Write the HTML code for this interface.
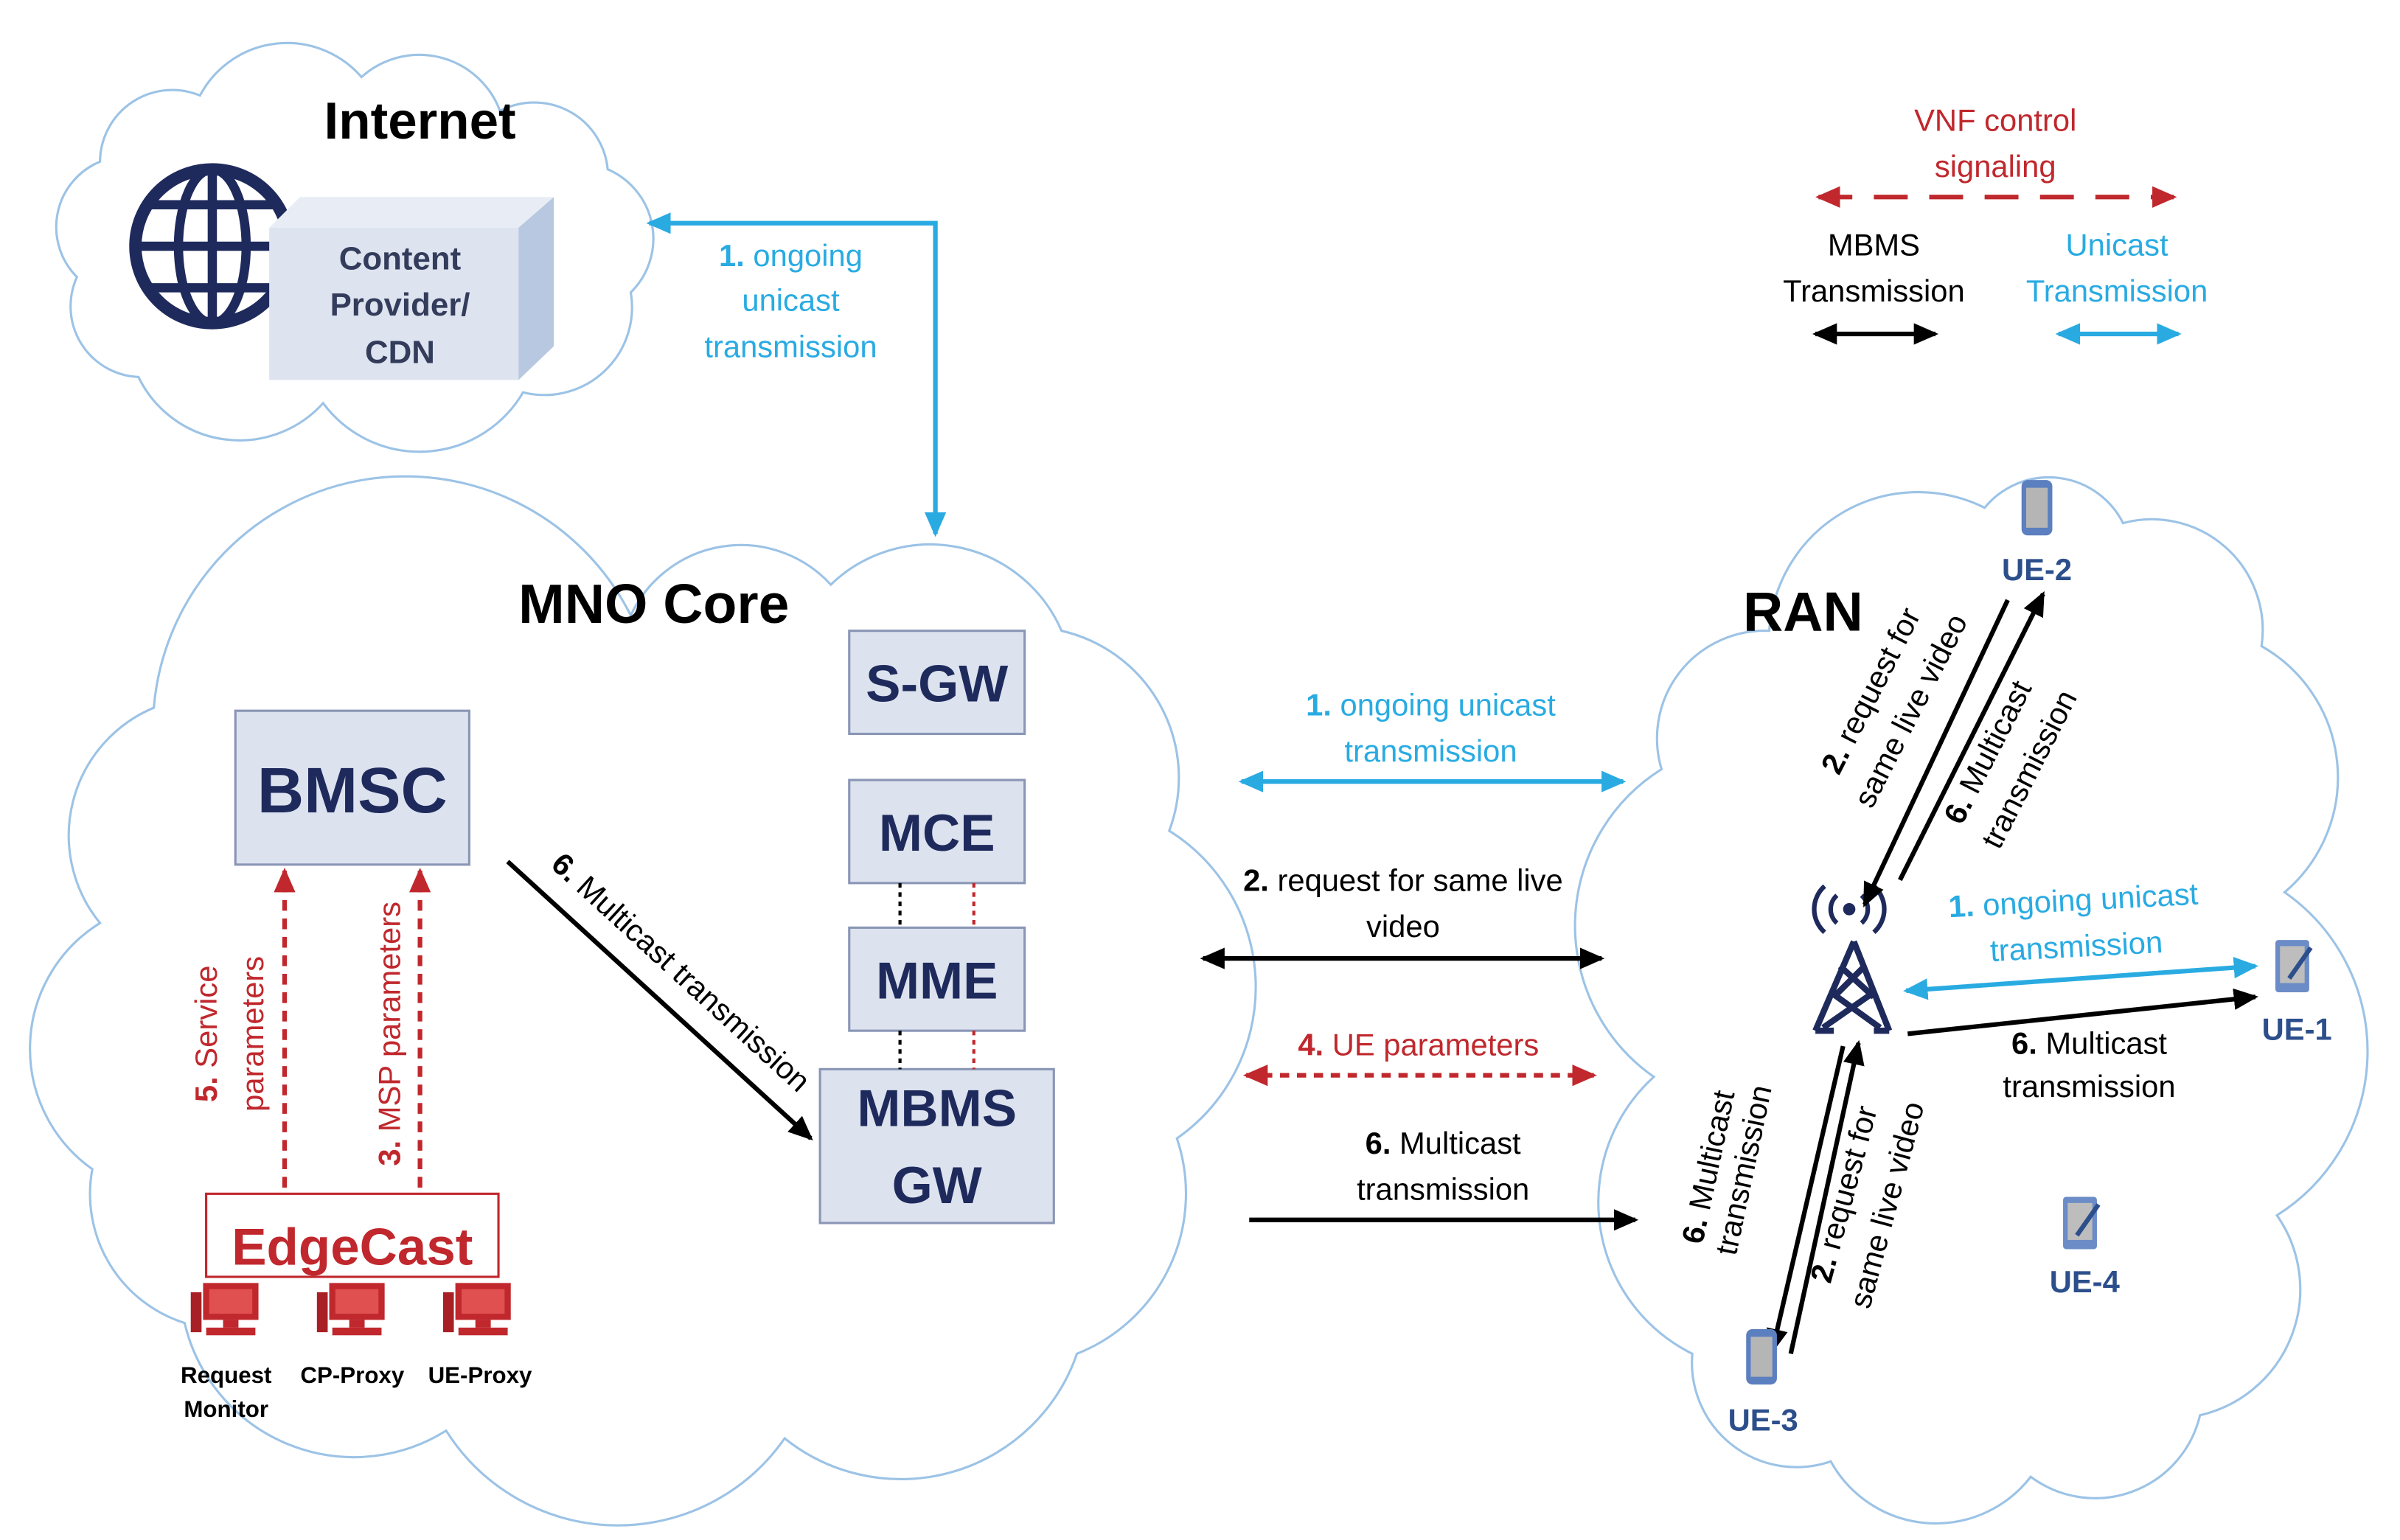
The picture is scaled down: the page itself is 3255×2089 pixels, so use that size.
<!DOCTYPE html>
<html><head><meta charset="utf-8"><style>
html,body{margin:0;padding:0;background:#fff}
svg{display:block}
text{font-family:"Liberation Sans",sans-serif}
</style></head><body>
<svg width="3255" height="2089" viewBox="0 0 1560 1001" xmlns="http://www.w3.org/2000/svg">
<defs>
<marker id="ab" markerUnits="userSpaceOnUse" markerWidth="16" markerHeight="14" refX="14" refY="7" orient="auto-start-reverse"><path d="M0,0 L16,7 L0,14 z" fill="#29abe2"/></marker>
<marker id="ak" markerUnits="userSpaceOnUse" markerWidth="16" markerHeight="14" refX="14" refY="7" orient="auto-start-reverse"><path d="M0,0 L16,7 L0,14 z" fill="#000"/></marker>
<marker id="ar" markerUnits="userSpaceOnUse" markerWidth="16" markerHeight="14" refX="14" refY="7" orient="auto-start-reverse"><path d="M0,0 L16,7 L0,14 z" fill="#c0282d"/></marker>
<g id="phone"><rect x="-10" y="-18" width="20" height="36" rx="4" fill="#5b7fbf"/><rect x="-7" y="-13" width="14" height="26" fill="#b5b5b5"/></g>
<g id="tab"><rect x="-11" y="-17" width="22" height="34" rx="2" fill="#6b8cc6"/><rect x="-8" y="-13" width="16" height="24" fill="#bdbdbd"/><line x1="-2" y1="8" x2="12" y2="-12" stroke="#2c4f8c" stroke-width="3"/></g>
<g id="pc"><rect x="-18" y="-16" width="36" height="24" fill="#c0282d"/><rect x="-14" y="-12" width="28" height="16" fill="#e05050"/><rect x="-5" y="8" width="10" height="5" fill="#c0282d"/><rect x="-16" y="13" width="32" height="5" fill="#c0282d"/><rect x="-26" y="-10" width="7" height="26" fill="#a82025"/></g>
</defs>

<!-- Internet cloud -->
<path d="M90,245 A46,46 0 0 1 50,180 A46,46 0 0 1 65,105 A47,47 0 0 1 130,62 A64,64 0 0 1 235,50 A56,56 0 0 1 325,72 A48,48 0 0 1 395,110 A49,49 0 0 1 410,190 A57,57 0 0 1 340,255 A78,78 0 0 1 210,262 A73,73 0 0 1 90,245 Z" fill="#fff" stroke="#9cc3e6" stroke-width="1.5"/>
<text x="273" y="90" font-size="34" font-weight="bold" text-anchor="middle">Internet</text>
<circle cx="138" cy="160" r="50" fill="none" stroke="#1f2a5c" stroke-width="8"/>
<ellipse cx="138" cy="160" rx="22" ry="50" fill="none" stroke="#1f2a5c" stroke-width="6"/>
<line x1="138" y1="110" x2="138" y2="210" stroke="#1f2a5c" stroke-width="6"/>
<line x1="88" y1="160" x2="188" y2="160" stroke="#1f2a5c" stroke-width="6"/>
<line x1="96" y1="133" x2="180" y2="133" stroke="#1f2a5c" stroke-width="6"/>
<line x1="96" y1="187" x2="180" y2="187" stroke="#1f2a5c" stroke-width="6"/>
<polygon points="175,148 195,128 360,128 337,148" fill="#e8edf5"/>
<polygon points="337,148 360,128 360,225 337,247" fill="#b8c8e0"/>
<rect x="175" y="148" width="162" height="99" fill="#dde4f0"/>
<g font-size="21" font-weight="bold" fill="#333c5a" text-anchor="middle"><text x="260" y="175">Content</text><text x="260" y="205">Provider/</text><text x="260" y="236">CDN</text></g>

<!-- top blue connector -->
<polyline points="422,145 608,145 608,347" fill="none" stroke="#29abe2" stroke-width="3" marker-start="url(#ab)" marker-end="url(#ab)"/>
<g font-size="20" fill="#29abe2" text-anchor="middle"><text x="514" y="173"><tspan font-weight="bold">1.</tspan> ongoing</text><text x="514" y="202">unicast</text><text x="514" y="232">transmission</text></g>

<!-- MNO cloud -->
<path d="M120,860 A88,88 0 0 1 60,760 A96,96 0 0 1 65,600 A90,90 0 0 1 100,460 A164,164 0 0 1 410,400 A79,79 0 0 1 540,380 A93,93 0 0 1 690,410 A98,98 0 0 1 760,540 A120,120 0 0 1 765,740 A112,112 0 0 1 700,880 A121,121 0 0 1 510,935 A132,132 0 0 1 290,930 A113,113 0 0 1 120,860 Z" fill="#fff" stroke="#9cc3e6" stroke-width="1.5"/>
<text x="425" y="405" font-size="36" font-weight="bold" text-anchor="middle">MNO Core</text>

<!-- RAN cloud -->
<path d="M1100,880 A110,110 0 0 1 1075,700 A120,120 0 0 1 1080,500 A70,70 0 0 1 1150,410 A97,97 0 0 1 1290,330 A54,54 0 0 1 1380,340 A72,72 0 0 1 1470,420 A98,98 0 0 1 1485,580 A126,126 0 0 1 1480,790 A84,84 0 0 1 1430,920 A70,70 0 0 1 1320,960 A78,78 0 0 1 1190,950 A68,68 0 0 1 1100,880 Z" fill="#fff" stroke="#9cc3e6" stroke-width="1.5"/>
<text x="1172" y="410" font-size="36" font-weight="bold" text-anchor="middle">RAN</text>

<!-- boxes -->
<g fill="#dce3ef" stroke="#8a96b5" stroke-width="1.5">
<rect x="552" y="410" width="114" height="67"/><rect x="552" y="507" width="114" height="67"/><rect x="552" y="603" width="114" height="67"/><rect x="533" y="695" width="152" height="100"/><rect x="153" y="462" width="152" height="100"/>
</g>
<g font-weight="bold" fill="#1f2a5c" text-anchor="middle" font-size="34">
<text x="609" y="456">S-GW</text><text x="609" y="553">MCE</text><text x="609" y="649">MME</text><text x="609" y="732">MBMS</text><text x="609" y="782">GW</text><text x="229" y="528" font-size="42">BMSC</text>
</g>
<g stroke-width="2" stroke-dasharray="3,3">
<line x1="585" y1="574" x2="585" y2="603" stroke="#000"/><line x1="633" y1="574" x2="633" y2="603" stroke="#c0282d"/>
<line x1="585" y1="670" x2="585" y2="695" stroke="#000"/><line x1="633" y1="670" x2="633" y2="695" stroke="#c0282d"/>
</g>

<!-- EdgeCast -->
<rect x="134" y="776" width="190" height="54" fill="#fff" stroke="#c0282d" stroke-width="1.5"/>
<text x="229" y="822" font-size="34" font-weight="bold" fill="#c0282d" text-anchor="middle">EdgeCast</text>
<use href="#pc" x="150" y="850"/><use href="#pc" x="232" y="850"/><use href="#pc" x="314" y="850"/>
<g font-size="15" font-weight="bold" text-anchor="middle"><text x="147" y="899">Request</text><text x="147" y="921">Monitor</text><text x="229" y="899">CP-Proxy</text><text x="312" y="899">UE-Proxy</text></g>
<line x1="185" y1="772" x2="185" y2="566" stroke="#c0282d" stroke-width="3" stroke-dasharray="7,5" marker-end="url(#ar)"/>
<line x1="273" y1="772" x2="273" y2="566" stroke="#c0282d" stroke-width="3" stroke-dasharray="7,5" marker-end="url(#ar)"/>
<g font-size="20" fill="#c0282d" text-anchor="middle">
<text transform="translate(141,672) rotate(-90)"><tspan font-weight="bold">5.</tspan> Service</text>
<text transform="translate(171,672) rotate(-90)">parameters</text>
<text transform="translate(260,672) rotate(-90)"><tspan font-weight="bold">3.</tspan> MSP parameters</text>
</g>
<line x1="330" y1="560" x2="527" y2="740" stroke="#000" stroke-width="3" marker-end="url(#ak)"/>
<text transform="translate(438,637) rotate(42.4)" font-size="20" text-anchor="middle"><tspan font-weight="bold">6.</tspan> Multicast transmission</text>

<!-- middle connectors -->
<line x1="807" y1="508" x2="1055" y2="508" stroke="#29abe2" stroke-width="3" marker-start="url(#ab)" marker-end="url(#ab)"/>
<g font-size="20" fill="#29abe2" text-anchor="middle"><text x="930" y="465"><tspan font-weight="bold">1.</tspan> ongoing unicast</text><text x="930" y="495">transmission</text></g>
<line x1="782" y1="623" x2="1041" y2="623" stroke="#000" stroke-width="3" marker-start="url(#ak)" marker-end="url(#ak)"/>
<g font-size="20" text-anchor="middle"><text x="912" y="579"><tspan font-weight="bold">2.</tspan> request for same live</text><text x="912" y="609">video</text></g>
<line x1="810" y1="699" x2="1036" y2="699" stroke="#c0282d" stroke-width="3" stroke-dasharray="6,5" marker-start="url(#ar)" marker-end="url(#ar)"/>
<text x="922" y="686" font-size="20" fill="#c0282d" text-anchor="middle"><tspan font-weight="bold">4.</tspan> UE parameters</text>
<line x1="812" y1="793" x2="1063" y2="793" stroke="#000" stroke-width="3" marker-end="url(#ak)"/>
<g font-size="20" text-anchor="middle"><text x="938" y="750"><tspan font-weight="bold">6.</tspan> Multicast</text><text x="938" y="780">transmission</text></g>

<!-- tower -->
<g stroke="#1f2a5c" stroke-width="4" fill="none">
<path d="M1205,612 L1180,670 M1205,612 L1228,670 M1190,645 L1222,668 M1218,645 L1185,668 M1196,628 L1218,648 M1212,628 L1192,648 M1180,670 L1192,670 M1218,670 L1228,670"/>
<path d="M1194,582 A12,12 0 0 0 1194,600 M1210,582 A12,12 0 0 1 1210,600" stroke-width="3"/>
<path d="M1186,576 A20,20 0 0 0 1186,606 M1218,576 A20,20 0 0 1 1218,606" stroke-width="3"/>
</g>
<circle cx="1202" cy="591" r="4" fill="#1f2a5c"/>

<!-- RAN arrows -->
<line x1="1305" y1="390" x2="1212" y2="588" stroke="#000" stroke-width="3" marker-end="url(#ak)"/>
<line x1="1235" y1="572" x2="1328" y2="386" stroke="#000" stroke-width="3" marker-end="url(#ak)"/>
<g font-size="20" text-anchor="middle">
<text transform="translate(1222,452) rotate(-63)"><tspan font-weight="bold">2.</tspan> request for</text>
<text transform="translate(1248,465) rotate(-63)">same live video</text>
<text transform="translate(1298,492) rotate(-63)"><tspan font-weight="bold">6.</tspan> Multicast</text>
<text transform="translate(1325,503) rotate(-63)">transmission</text>
</g>
<line x1="1239" y1="644" x2="1466" y2="628" stroke="#29abe2" stroke-width="3" marker-start="url(#ab)" marker-end="url(#ab)"/>
<g font-size="20" fill="#29abe2" text-anchor="middle"><text transform="translate(1348,592) rotate(-3)"><tspan font-weight="bold">1.</tspan> ongoing unicast</text><text transform="translate(1350,622) rotate(-3)">transmission</text></g>
<line x1="1240" y1="672" x2="1466" y2="648" stroke="#000" stroke-width="3" marker-end="url(#ak)"/>
<g font-size="20" text-anchor="middle"><text x="1358" y="685"><tspan font-weight="bold">6.</tspan> Multicast</text><text x="1358" y="713">transmission</text></g>
<line x1="1198" y1="680" x2="1152" y2="878" stroke="#000" stroke-width="3" marker-end="url(#ak)"/>
<line x1="1164" y1="880" x2="1208" y2="678" stroke="#000" stroke-width="3" marker-end="url(#ak)"/>
<g font-size="20" text-anchor="middle">
<text transform="translate(1117,760) rotate(-78)"><tspan font-weight="bold">6.</tspan> Multicast</text>
<text transform="translate(1140,762) rotate(-78)">transmission</text>
<text transform="translate(1205,778) rotate(-75)"><tspan font-weight="bold">2.</tspan> request for</text>
<text transform="translate(1233,785) rotate(-75)">same live video</text>
</g>

<!-- UEs -->
<use href="#phone" x="1324" y="330"/><use href="#phone" x="1145" y="882"/>
<use href="#tab" x="1490" y="628"/><use href="#tab" x="1352" y="795"/>
<g font-size="20" font-weight="bold" fill="#2c4f8c" text-anchor="middle">
<text x="1324" y="377">UE-2</text><text x="1493" y="676">UE-1</text><text x="1146" y="930">UE-3</text><text x="1355" y="840">UE-4</text>
</g>

<!-- legend -->
<g font-size="20" text-anchor="middle">
<text x="1297" y="85" fill="#c0282d">VNF  control</text><text x="1297" y="115" fill="#c0282d">signaling</text>
<text x="1218" y="166">MBMS</text><text x="1218" y="196">Transmission</text>
<text x="1376" y="166" fill="#29abe2">Unicast</text><text x="1376" y="196" fill="#29abe2">Transmission</text>
</g>
<line x1="1182" y1="128" x2="1413" y2="128" stroke="#c0282d" stroke-width="3" stroke-dasharray="22,14" marker-start="url(#ar)" marker-end="url(#ar)"/>
<line x1="1180" y1="217" x2="1258" y2="217" stroke="#000" stroke-width="3" marker-start="url(#ak)" marker-end="url(#ak)"/>
<line x1="1338" y1="217" x2="1416" y2="217" stroke="#29abe2" stroke-width="3" marker-start="url(#ab)" marker-end="url(#ab)"/>
</svg>
</body></html>
